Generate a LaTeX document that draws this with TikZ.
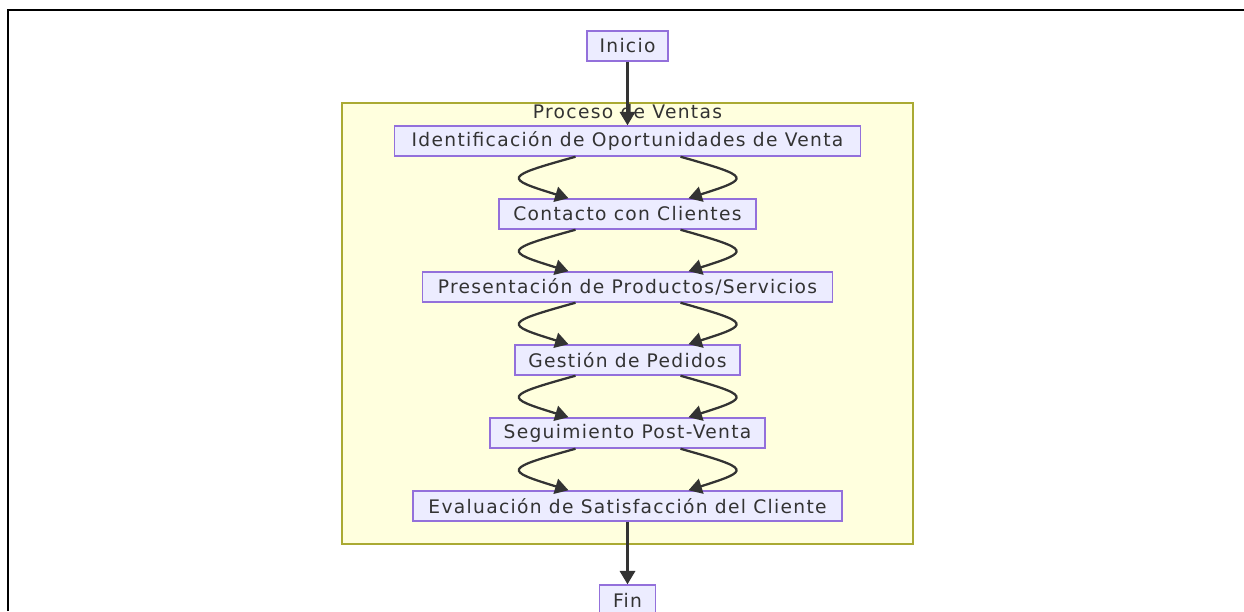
\documentclass[tikz,border=0pt]{standalone}
\usepackage{fontspec}
\newfontfamily\diagfont[LetterSpace=7]{DejaVu Sans}
\usetikzlibrary{arrows.meta,calc}
\definecolor{nodefill}{HTML}{ECECFF}
\definecolor{nodeline}{HTML}{9370DB}
\definecolor{clusterfill}{HTML}{FFFFDE}
\definecolor{clusterline}{HTML}{AAAA33}
\definecolor{inkgray}{HTML}{333333}

% two bowed links from the bottom of #1 to the top of #2
\newcommand\pairlinks[2]{%
  \draw[flow] ($(#1.south)+(-52,0)$) .. controls ($(#1.south)+(-124,20)$) and ($(#2.north)+(-124,-20)$) .. ($(#2.north)+(-59,0)$);
  \draw[flow] ($(#1.south)+(53,0)$) .. controls ($(#1.south)+(124,20)$) and ($(#2.north)+(124,-20)$) .. ($(#2.north)+(61,0)$);
}

\begin{document}
\begin{tikzpicture}[x=0.75pt,y=-0.75pt,
  labelfont/.style={font=\diagfont\fontsize{14}{16}\selectfont, text=inkgray},
  stepbox/.style={labelfont, draw=nodeline, fill=nodefill, line width=1.1pt,
    minimum height=22.5pt, inner sep=0pt},
  flow/.style={draw=inkgray, line width=1.7pt, -{Triangle[length=10pt,width=11.5pt]}},
]
\useasboundingbox (0,0) rectangle (1244,611);
\fill[white] (0,0) rectangle (1244,611);

% outer frame
\draw[black, line width=2pt] (8,611) -- (8,10) -- (1244,10);

% subgraph
\path[draw=clusterline, fill=clusterfill, line width=1pt] (342,103) rectangle (913,544);
\node[labelfont] (title) at (627.5,112) {Proceso de Ventas};

% steps
\node[stepbox, minimum width=60.75pt]  (inicio) at (627.5,46)  {Inicio};
\node[stepbox, minimum width=349.5pt]  (ident)  at (627.5,141) {Identificación de Oportunidades de Venta};
\node[stepbox, minimum width=192.75pt] (contac) at (627.5,214) {Contacto con Clientes};
\node[stepbox, minimum width=307.5pt]  (presen) at (627.5,287) {Presentación de Productos/Servicios};
\node[stepbox, minimum width=168.75pt] (gestio) at (627.5,360) {Gestión de Pedidos};
\node[stepbox, minimum width=206.25pt] (seguim) at (627.5,433) {Seguimiento Post-Venta};
\node[stepbox, minimum width=321.75pt] (evalua) at (627.5,506) {Evaluación de Satisfacción del Cliente};
\node[stepbox, minimum width=42pt]     (fin)    at (627.5,600) {Fin};

% links
\draw[flow] (inicio) -- (ident);
\pairlinks{ident}{contac}
\pairlinks{contac}{presen}
\pairlinks{presen}{gestio}
\pairlinks{gestio}{seguim}
\pairlinks{seguim}{evalua}
\draw[flow] (evalua) -- (fin);
\end{tikzpicture}
\end{document}
